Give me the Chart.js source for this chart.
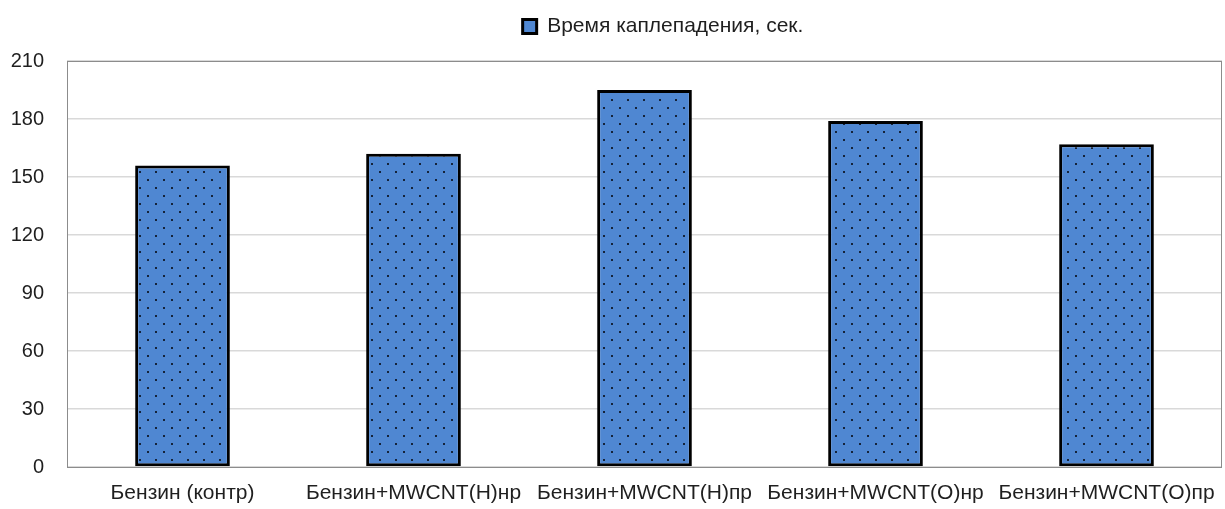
<!DOCTYPE html>
<html>
<head>
<meta charset="utf-8">
<script src="https://cdn.jsdelivr.net/npm/chart.js@4.4.1/dist/chart.umd.min.js"></script>
<style>
  html, body { margin: 0; padding: 0; background: #ffffff; }
  #wrap { width: 1225px; height: 509px; position: relative; }
</style>
</head>
<body>
<div id="wrap"><canvas id="chart"></canvas></div>
<script>
// Samples: petrol control and petrol with MWCNT additives
const categories = [
  'Бензин (контр)',
  'Бензин+MWCNT(H)нр',
  'Бензин+MWCNT(H)пр',
  'Бензин+MWCNT(O)нр',
  'Бензин+MWCNT(O)пр'
];
const seriesLabel = 'Время каплепадения, сек.';
const dripTimes = [156, 162, 195, 179, 167];
const yTickValues = [0, 30, 60, 90, 120, 150, 180, 210];

const BAR_BLUE = '#4F87D2';
const FAMILY = '"Liberation Sans", Arial, sans-serif';
const TEXT_COLOR = '#1f1f1f';

// Dotted fill for the bars: blue ground with a staggered grid of dark dots
function makeDotPattern() {
  const tile = document.createElement('canvas');
  tile.width = 16; tile.height = 16;
  const t = tile.getContext('2d');
  t.fillStyle = BAR_BLUE;
  t.fillRect(0, 0, 16, 16);
  t.fillStyle = '#15233a';
  t.fillRect(3, 3, 2, 2);
  t.fillRect(11, 11, 2, 2);
  return t.createPattern(tile, 'repeat');
}

// Grey frame round the plot area
const plotFrame = {
  id: 'plotFrame',
  beforeDatasetsDraw(chart) {
    const { ctx, chartArea: a } = chart;
    ctx.save();
    ctx.strokeStyle = '#8c8c8c';
    ctx.lineWidth = 1;
    ctx.strokeRect(Math.round(a.left) + 0.5, Math.round(a.top) + 0.5,
                   Math.round(a.right - a.left) - 1, Math.round(a.bottom - a.top));
    ctx.restore();
  }
};

// Fixed legend band above the plot, with the legend set a little right of centre
const legendBand = {
  id: 'legendBand',
  beforeInit(chart) {
    const fit = chart.legend.fit;
    chart.legend.fit = function () {
      fit.call(this);
      this.height = 61;
    };
  },
  afterLayout(chart) {
    const lg = chart.legend;
    lg.left += 52;
    lg.right += 52;
    lg.top += 2;
  }
};

Chart.defaults.font.family = FAMILY;
Chart.defaults.color = TEXT_COLOR;

new Chart(document.getElementById('chart'), {
  type: 'bar',
  data: {
    labels: categories,
    datasets: [{
      label: seriesLabel,
      data: dripTimes,
      backgroundColor: makeDotPattern(),
      borderColor: '#000000',
      borderWidth: 3,
      borderSkipped: false,
      barPercentage: 0.41,
      categoryPercentage: 1.0
    }]
  },
  options: {
    responsive: true,
    maintainAspectRatio: false,
    devicePixelRatio: 1,
    animation: false,
    layout: { padding: { left: 0, right: 3, top: 0, bottom: 0 } },
    plugins: {
      tooltip: { enabled: false },
      legend: {
        display: true,
        position: 'top',
        labels: {
          font: { family: FAMILY, size: 21 },
          color: TEXT_COLOR,
          boxWidth: 14,
          boxHeight: 14,
          padding: 14,
          generateLabels(chart) {
            return Chart.defaults.plugins.legend.labels.generateLabels(chart).map(l => {
              l.fillStyle = BAR_BLUE;
              l.strokeStyle = '#000000';
              l.lineWidth = 3;
              return l;
            });
          }
        }
      }
    },
    scales: {
      x: {
        grid: { display: false, drawTicks: false },
        border: { display: false },
        ticks: { font: { family: FAMILY, size: 21 }, color: TEXT_COLOR, padding: 14, maxRotation: 0, autoSkip: false },
        afterFit(scale) {
          scale.height = 42;
          scale.paddingLeft = 0;
          scale.paddingRight = 0;
        }
      },
      y: {
        min: 0,
        max: 210,
        afterBuildTicks(scale) { scale.ticks = yTickValues.map(v => ({ value: v })); },
        grid: { color: '#d9d9d9', lineWidth: 1.5, drawTicks: false },
        border: { display: false },
        ticks: { font: { family: FAMILY, size: 20 }, color: TEXT_COLOR, padding: 23 },
        afterFit(scale) { scale.width = 67; }
      }
    }
  },
  plugins: [legendBand, plotFrame]
});
</script>
</body>
</html>
